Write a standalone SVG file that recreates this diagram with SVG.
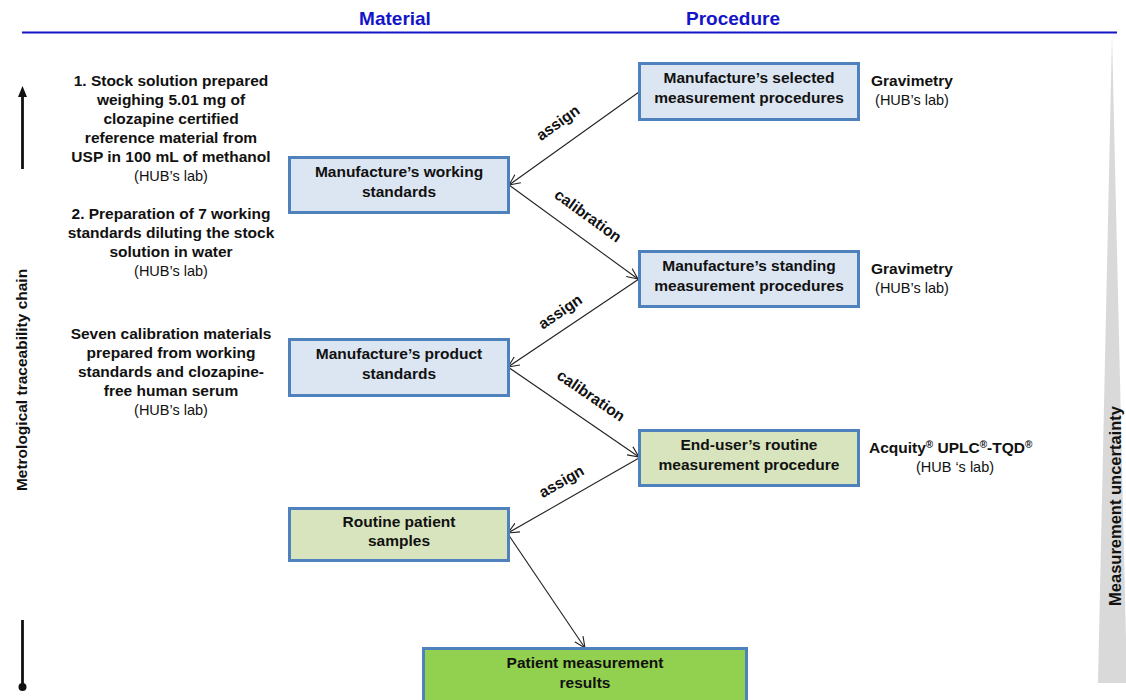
<svg xmlns="http://www.w3.org/2000/svg" width="1126" height="700" viewBox="0 0 1126 700">
<defs>
<style>
.t{font-family:"Liberation Sans",Arial,sans-serif;fill:#111;}
.b{font-weight:bold;font-size:15.5px;}
.r{font-weight:normal;font-size:14.5px;}
.lbl{font-family:"Liberation Sans",Arial,sans-serif;font-weight:bold;font-size:15.5px;fill:#111;}
.hd{font-family:"Liberation Sans",Arial,sans-serif;font-weight:bold;font-size:19px;fill:#1414c8;}
.box{stroke:#4f81bd;stroke-width:3;}
.blue{fill:#dce6f2;}
.lg{fill:#d7e4bd;}
.g{fill:#92d050;}
.con{stroke:#222;stroke-width:1.1;fill:none;marker-end:url(#ah);}
</style>
<marker id="ah" viewBox="0 0 12 12" refX="11" refY="6" markerWidth="12" markerHeight="12" markerUnits="userSpaceOnUse" orient="auto">
<path d="M0,1 L11,6 L0,11" fill="none" stroke="#222" stroke-width="1.1"/>
</marker>
</defs>
<rect width="1126" height="700" fill="#fff"/>

<!-- header -->
<g id="header">
<text class="hd" x="395" y="25" text-anchor="middle">Material</text>
<text class="hd" x="733" y="25" text-anchor="middle">Procedure</text>
<line x1="22" y1="32.5" x2="1117" y2="32.5" stroke="#1414c8" stroke-width="2"/>
</g>

<!-- uncertainty wedge -->
<g id="uncertainty">
<polygon points="1112,35 1127,683 1098,683" fill="#d9d9d9"/>
<text class="t" font-weight="bold" font-size="16.5" transform="translate(1121,506) rotate(-90)" text-anchor="middle">Measurement uncertainty</text>
</g>

<!-- traceability axis -->
<g id="traceability">
<line x1="22.5" y1="96" x2="22.5" y2="169" stroke="#111" stroke-width="2.8"/>
<polygon points="22.5,86 18,97 27,97" fill="#111"/>
<line x1="22.5" y1="620" x2="22.5" y2="686" stroke="#111" stroke-width="2.8"/>
<circle cx="22.5" cy="687" r="4" fill="#111"/>
<text class="t b" transform="translate(27,380) rotate(-90)" text-anchor="middle">Metrological traceability chain</text>
</g>

<!-- material notes -->
<g id="note1" class="t" text-anchor="middle">
<text class="b" x="171" y="86">1.  Stock solution prepared</text>
<text class="b" x="171" y="105">weighing 5.01 mg of</text>
<text class="b" x="171" y="124">clozapine certified</text>
<text class="b" x="171" y="143">reference material from</text>
<text class="b" x="171" y="162">USP in 100 mL of methanol</text>
<text class="r" x="171" y="181">(HUB’s lab)</text>
</g>
<g id="note2" class="t" text-anchor="middle">
<text class="b" x="171" y="219">2.  Preparation of 7 working</text>
<text class="b" x="171" y="238">standards  diluting the stock</text>
<text class="b" x="171" y="257">solution in water</text>
<text class="r" x="171" y="276">(HUB’s lab)</text>
</g>
<g id="note3" class="t" text-anchor="middle">
<text class="b" x="171" y="339">Seven calibration materials</text>
<text class="b" x="171" y="358">prepared from working</text>
<text class="b" x="171" y="377">standards and clozapine-</text>
<text class="b" x="171" y="396">free human serum</text>
<text class="r" x="171" y="415">(HUB’s lab)</text>
</g>

<!-- procedure notes -->
<g id="proc1" class="t">
<text class="b" x="871" y="86">Gravimetry</text>
<text class="r" x="912" y="105" text-anchor="middle">(HUB’s lab)</text>
</g>
<g id="proc2" class="t">
<text class="b" x="871" y="274">Gravimetry</text>
<text class="r" x="912" y="293" text-anchor="middle">(HUB’s lab)</text>
</g>
<g id="proc3" class="t">
<text class="b" x="869" y="453">Acquity<tspan font-size="10" dy="-5">®</tspan><tspan dy="5"> UPLC</tspan><tspan font-size="10" dy="-5">®</tspan><tspan dy="5">-TQD</tspan><tspan font-size="10" dy="-5">®</tspan></text>
<text class="r" x="955" y="472" text-anchor="middle">(HUB ‘s lab)</text>
</g>

<!-- connectors -->
<g id="connectors">
<line class="con" x1="639" y1="92" x2="509" y2="185"/>
<line class="con" x1="509" y1="185" x2="638" y2="279"/>
<line class="con" x1="639" y1="279" x2="508" y2="367"/>
<line class="con" x1="508" y1="367" x2="639" y2="457"/>
<line class="con" x1="639" y1="458" x2="508" y2="533"/>
<line class="con" x1="508" y1="534" x2="585" y2="648"/>
<text class="lbl" transform="translate(561,127) rotate(-35.6)" text-anchor="middle">assign</text>
<text class="lbl" transform="translate(585,220) rotate(36)" text-anchor="middle">calibration</text>
<text class="lbl" transform="translate(563,316) rotate(-33.9)" text-anchor="middle">assign</text>
<text class="lbl" transform="translate(588,400) rotate(34.5)" text-anchor="middle">calibration</text>
<text class="lbl" transform="translate(564,486) rotate(-29.8)" text-anchor="middle">assign</text>
</g>

<!-- nodes -->
<g id="selected">
<rect class="box blue" x="639.5" y="63.5" width="219" height="56"/>
<text class="t b" x="749" y="83" text-anchor="middle">Manufacture’s selected</text>
<text class="t b" x="749" y="103" text-anchor="middle">measurement procedures</text>
</g>
<g id="working">
<rect class="box blue" x="289.5" y="157.5" width="219" height="55"/>
<text class="t b" x="399" y="177" text-anchor="middle">Manufacture’s working</text>
<text class="t b" x="399" y="197" text-anchor="middle">standards</text>
</g>
<g id="standing">
<rect class="box blue" x="639.5" y="251.5" width="219" height="55"/>
<text class="t b" x="749" y="271" text-anchor="middle">Manufacture’s standing</text>
<text class="t b" x="749" y="291" text-anchor="middle">measurement procedures</text>
</g>
<g id="product">
<rect class="box blue" x="289.5" y="339.5" width="219" height="56"/>
<text class="t b" x="399" y="359" text-anchor="middle">Manufacture’s product</text>
<text class="t b" x="399" y="379" text-anchor="middle">standards</text>
</g>
<g id="enduser">
<rect class="box lg" x="639.5" y="430.5" width="219" height="55"/>
<text class="t b" x="749" y="450" text-anchor="middle">End-user’s routine</text>
<text class="t b" x="749" y="470" text-anchor="middle">measurement procedure</text>
</g>
<g id="routine">
<rect class="box lg" x="289.5" y="508.5" width="219" height="52"/>
<text class="t b" x="399" y="527" text-anchor="middle">Routine patient</text>
<text class="t b" x="399" y="546" text-anchor="middle">samples</text>
</g>
<g id="patient">
<rect class="box g" x="423.5" y="648.5" width="323" height="60"/>
<text class="t b" x="585" y="668" text-anchor="middle">Patient measurement</text>
<text class="t b" x="585" y="688" text-anchor="middle">results</text>
</g>
</svg>
